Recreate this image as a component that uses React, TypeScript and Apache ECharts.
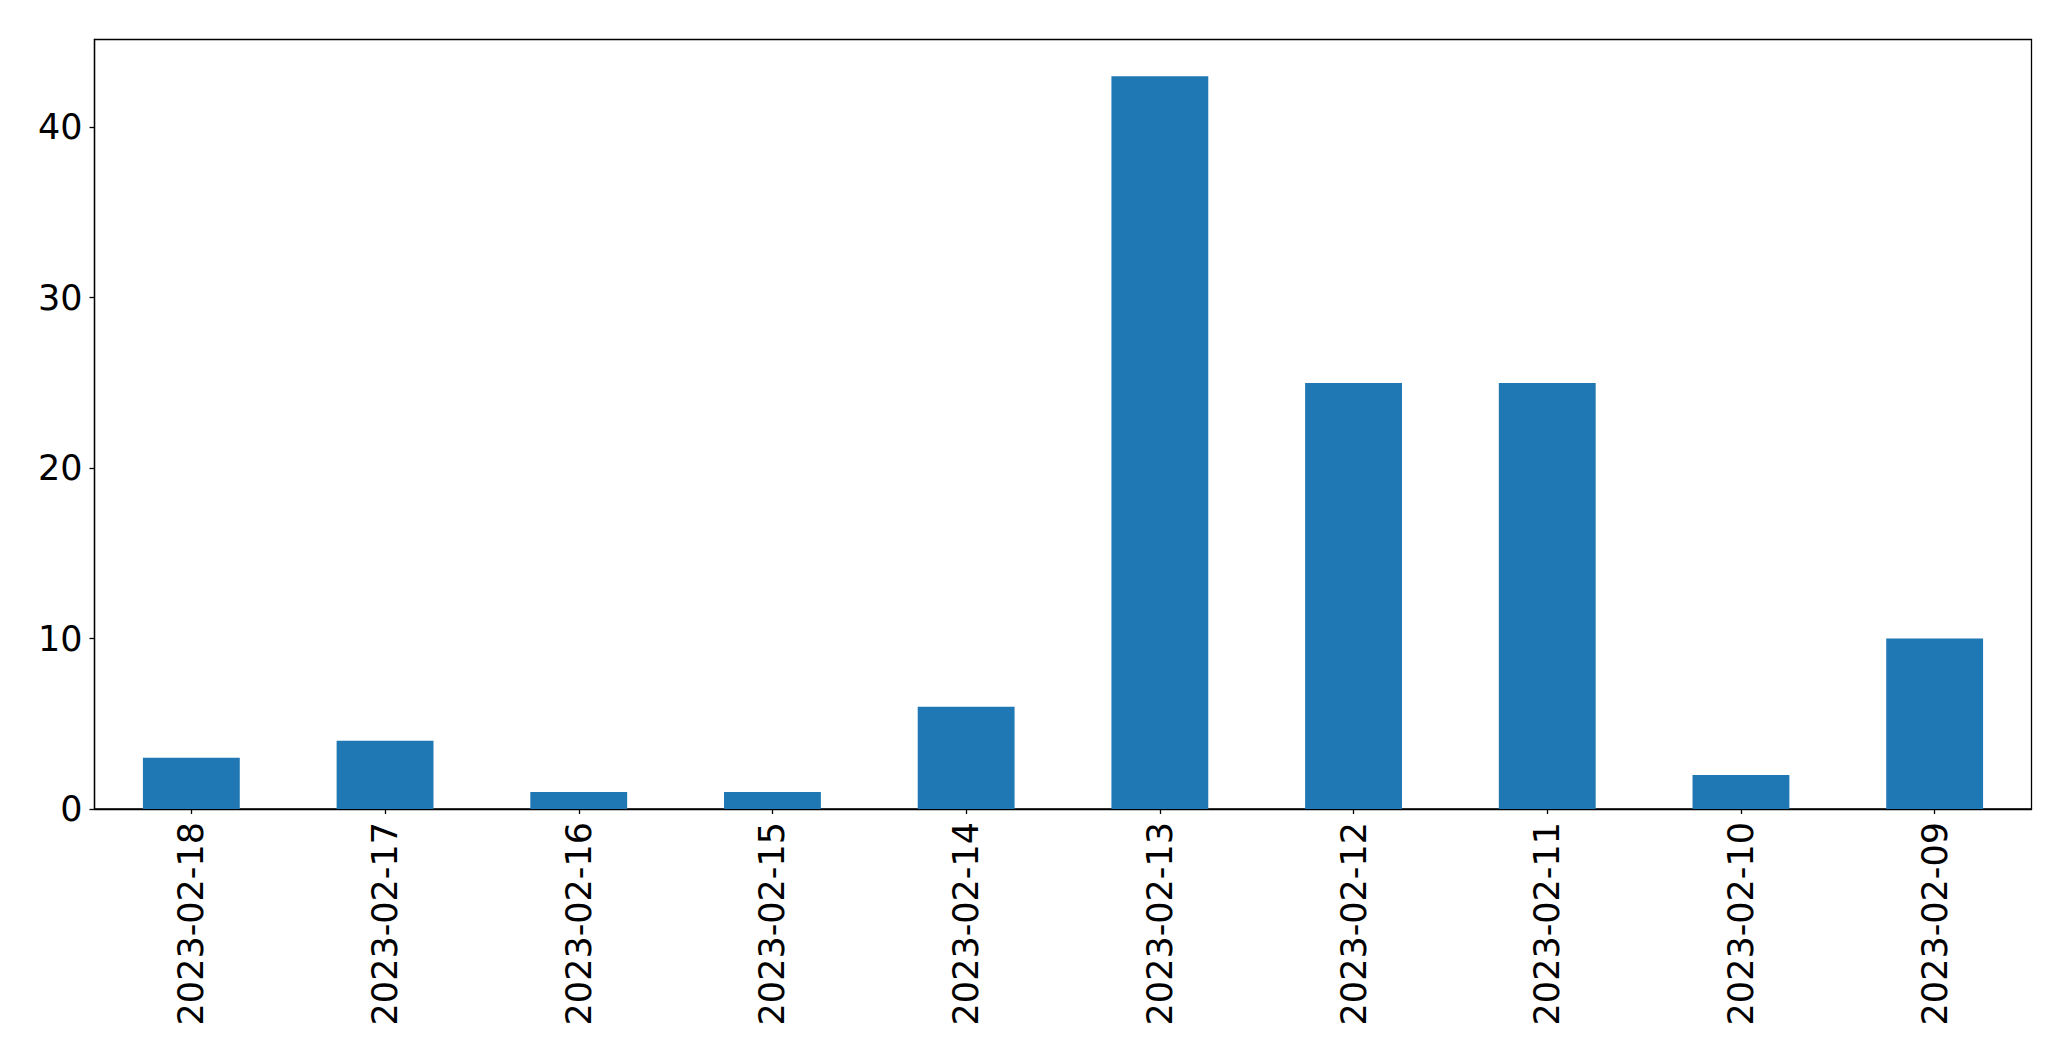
import React, { useEffect, useRef } from "react";
import * as echarts from "echarts";

const categories = [
  "2023-02-18",
  "2023-02-17",
  "2023-02-16",
  "2023-02-15",
  "2023-02-14",
  "2023-02-13",
  "2023-02-12",
  "2023-02-11",
  "2023-02-10",
  "2023-02-09",
];
const counts = [3, 4, 1, 1, 6, 43, 25, 25, 2, 10];
const yMax = 45.15;

export default function App() {
  const ref = useRef<HTMLDivElement>(null);
  useEffect(() => {
    if (!ref.current) return;
    const chart = echarts.init(ref.current, undefined, { renderer: "svg" });
    const font = "DejaVu Sans";
    chart.setOption({
      animation: false,
      backgroundColor: "#ffffff",
      grid: {
        left: 94.5,
        right: 39.5,
        top: 39.5,
        bottom: 252,
        show: true,
        borderColor: "#000000",
        borderWidth: 1.3,
        backgroundColor: "transparent",
      },
      xAxis: {
        type: "category",
        data: categories,
        boundaryGap: true,
        axisLine: { show: true, lineStyle: { color: "#000000", width: 1.3 } },
        axisTick: { show: true, alignWithLabel: true, length: 5, lineStyle: { color: "#000000", width: 1.3 } },
        axisLabel: {
          interval: 0,
          rotate: 90,
          margin: 13,
          color: "#000000",
          fontSize: 35,
          fontFamily: font,
        },
        splitLine: { show: false },
      },
      yAxis: {
        type: "value",
        min: 0,
        max: yMax,
        interval: 10,
        axisLine: { show: true, lineStyle: { color: "#000000", width: 1.3 } },
        axisTick: { show: true, length: 5, lineStyle: { color: "#000000", width: 1.3 } },
        axisLabel: {
          showMaxLabel: false,
          margin: 12,
          color: "#000000",
          fontSize: 35,
          fontFamily: font,
          formatter: (v: number) => (v % 10 === 0 ? String(v) : ""),
        },
        splitLine: { show: false },
      },
      series: [
        {
          type: "bar",
          data: counts,
          barWidth: "50%",
          itemStyle: { color: "#1f77b4" },
        },
      ],
    });
    return () => chart.dispose();
  }, []);
  return (
    <div
      ref={ref}
      style={{ position: "fixed", left: 0, top: 0, width: 2071, height: 1061, background: "#fff" }}
    />
  );
}
